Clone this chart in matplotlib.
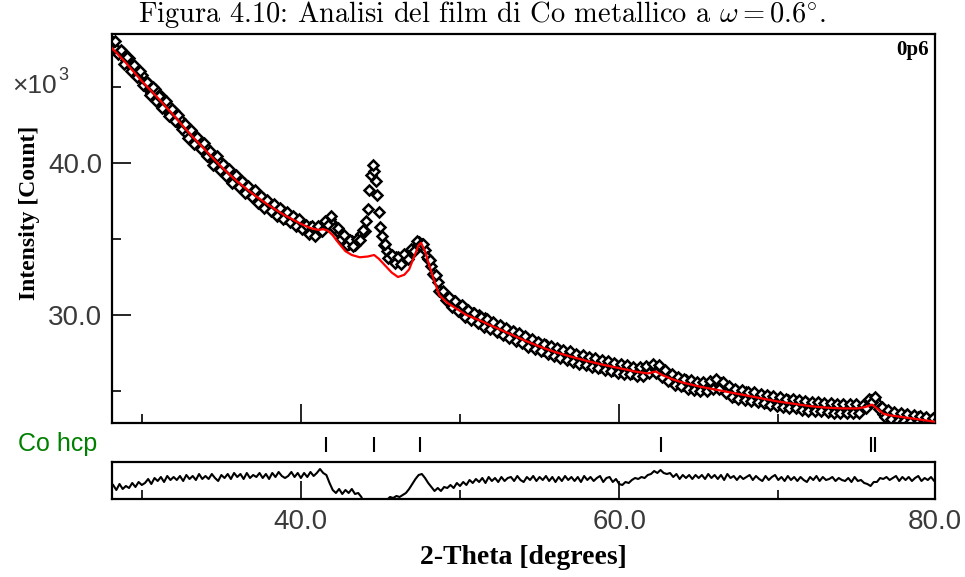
import numpy as np
import matplotlib
matplotlib.use("Agg")
import matplotlib.pyplot as plt

# Observed intensity (x10^3 counts) on a 0.2 deg grid, one row per degree: n.2 ... n+1.0
obs_start = 28.2
obs_step = 0.2
obs = [
    48.0, 47.5, 47.4, 47.3, 46.8,  # 28
    46.9, 46.3, 46.2, 45.7, 45.8,  # 29
    45.1, 45.3, 44.6, 44.9, 44.2,  # 30
    44.4, 43.6, 43.9, 43.3, 43.4,  # 31
    42.7, 42.9, 42.5, 42.0, 42.2,  # 32
    41.5, 41.7, 41.4, 40.9, 41.1,  # 33
    40.4, 40.6, 40.0, 40.2, 39.6,  # 34
    39.8, 39.2, 39.3, 38.8, 39.0,  # 35
    38.5, 38.7, 38.1, 38.3, 37.8,  # 36
    38.0, 37.5, 37.7, 37.2, 37.3,  # 37
    36.9, 37.2, 36.7, 36.9, 36.4,  # 38
    36.6, 36.2, 36.4, 35.9, 36.1,  # 39
    35.7, 35.5, 35.8, 35.4, 35.6,  # 40
    35.5, 35.9, 36.0, 36.3, 36.0,  # 41
    35.6, 35.4, 35.1, 34.9, 34.7,  # 42
    34.9, 34.6, 35.0, 35.3, 35.5,  # 43
    37.0, 39.2, 39.5, 37.9, 35.8,  # 44
    34.6, 34.2, 33.9, 33.6, 33.8,  # 45
    33.5, 33.7, 33.9, 34.0, 34.3,  # 46
    34.5, 34.8, 34.7, 34.3, 33.7,  # 47
    33.2, 32.6, 32.2, 31.5, 31.3,  # 48
    31.1, 30.8, 30.9, 30.5, 30.6,  # 49
    30.3, 30.4, 29.9, 30.1, 29.7,  # 50
    30.0, 29.6, 29.8, 29.2, 29.5,  # 51
    29.3, 29.0, 29.3, 28.8, 29.0,  # 52
    28.6, 28.9, 28.5, 28.7, 28.2,  # 53
    28.5, 28.1, 28.3, 27.9, 28.1,  # 54
    27.7, 28.0, 27.6, 27.8, 27.4,  # 55
    27.7, 27.3, 27.5, 27.2, 27.4,  # 56
    27.1, 27.3, 26.9, 27.2, 26.9,  # 57
    27.1, 26.7, 27.0, 26.6, 26.9,  # 58
    26.5, 26.8, 26.4, 26.7, 26.4,  # 59
    26.6, 26.3, 26.5, 26.2, 26.4,  # 60
    26.2, 26.4, 26.3, 26.5, 26.4,  # 61
    26.6, 26.4, 26.3, 26.0, 26.1,  # 62
    25.7, 25.9, 25.6, 25.8, 25.4,  # 63
    25.7, 25.3, 25.6, 25.2, 25.4,  # 64
    25.1, 25.4, 25.2, 25.5, 25.6,  # 65
    25.4, 25.5, 25.2, 24.9, 25.1,  # 66
    24.7, 25.0, 24.8, 24.6, 24.9,  # 67
    24.6, 24.8, 24.4, 24.7, 24.5,  # 68
    24.3, 24.6, 24.3, 24.5, 24.2,  # 69
    24.4, 24.1, 24.4, 24.1, 24.3,  # 70
    24.0, 24.2, 23.9, 24.2, 23.9,  # 71
    24.1, 23.8, 24.1, 23.9, 24.0,  # 72
    23.7, 24.0, 23.8, 23.7, 23.9,  # 73
    23.7, 23.9, 23.8, 23.7, 23.9,  # 74
    23.8, 24.0, 24.2, 24.4, 24.5,  # 75
    24.2, 23.8, 23.5, 23.7, 23.4,  # 76
    23.5, 23.3, 23.4, 23.2, 23.4,  # 77
    23.2, 23.3, 23.1, 23.3, 23.0,  # 78
    23.2, 23.0, 23.1, 22.9, 23.0,  # 79
]

# the interleaved observed points: n.3, n.5, n.7, n.9, n+1.1
obs_mid_start = 28.3
obs_mid = [
    48.05, 47.15, 47.45, 46.55, 47.0,  # 28
    46.05, 46.45, 45.65, 46.05, 45.15,  # 29
    45.35, 44.5, 45.0, 44.1, 44.45,  # 30
    43.65, 44.1, 43.1, 43.55, 42.8,  # 31
    43.15, 42.25, 42.55, 41.65, 42.15,  # 32
    41.25, 41.7, 40.9, 41.35, 40.45,  # 33
    40.8, 39.9, 40.45, 39.55, 39.95,  # 34
    39.15, 39.6, 38.7, 39.2, 38.4,  # 35
    38.85, 38.0, 38.5, 37.75, 38.2,  # 36
    37.4, 37.85, 37.05, 37.55, 36.85,  # 37
    37.3, 36.5, 37.05, 36.3, 36.8,  # 38
    36.1, 36.55, 35.85, 36.35, 35.65,  # 39
    35.95, 35.3, 35.85, 35.2, 35.85,  # 40
    35.5, 36.2, 35.95, 36.5, 35.7,  # 41
    35.75, 35.0, 35.25, 34.6, 34.95,  # 42
    34.55, 35.0, 34.95, 35.6, 36.2,  # 43
    38.2, 39.9, 38.8, 36.8, 35.2,  # 44
    34.65, 33.75, 33.95, 33.45, 33.85,  # 45
    33.35, 34.0, 33.7, 34.35, 34.2,  # 46
    34.85, 34.6, 34.7, 33.8, 33.65,  # 47
    32.7, 32.65, 31.6, 31.6, 31.0,  # 48
    31.2, 30.5, 30.95, 30.25, 30.65,  # 49
    29.85, 30.35, 29.65, 30.15, 29.5,  # 50
    29.9, 29.2, 29.75, 29.05, 29.55,  # 51
    28.85, 29.35, 28.7, 29.15, 28.5,  # 52
    28.95, 28.3, 28.8, 28.15, 28.6,  # 53
    27.9, 28.45, 27.75, 28.25, 27.6,  # 54
    28.1, 27.45, 27.95, 27.3, 27.8,  # 55
    27.15, 27.7, 27.05, 27.6, 26.9,  # 56
    27.45, 26.8, 27.35, 26.7, 27.25,  # 57
    26.6, 27.15, 26.5, 27.05, 26.4,  # 58
    26.95, 26.3, 26.85, 26.2, 26.8,  # 59
    26.1, 26.7, 26.1, 26.6, 26.0,  # 60
    26.6, 26.0, 26.65, 26.2, 26.8,  # 61
    26.2, 26.7, 25.9, 26.35, 25.65,  # 62
    26.1, 25.4, 25.95, 25.3, 25.8,  # 63
    25.15, 25.7, 25.05, 25.6, 25.0,  # 64
    25.6, 25.0, 25.65, 25.15, 25.8,  # 65
    25.1, 25.6, 24.85, 25.3, 24.6,  # 66
    25.15, 24.5, 25.05, 24.4, 24.95,  # 67
    24.35, 24.9, 24.25, 24.8, 24.2,  # 68
    24.75, 24.1, 24.65, 24.0, 24.6,  # 69
    23.95, 24.5, 23.9, 24.45, 23.85,  # 70
    24.4, 23.75, 24.35, 23.7, 24.3,  # 71
    23.65, 24.25, 23.65, 24.2, 23.6,  # 72
    24.2, 23.55, 24.15, 23.55, 24.15,  # 73
    23.55, 24.15, 23.55, 24.15, 23.55,  # 74
    24.1, 23.9, 24.5, 24.25, 24.6,  # 75
    23.8, 23.95, 23.3, 23.75, 23.15,  # 76
    23.6, 23.05, 23.55, 23.0, 23.5,  # 77
    22.95, 23.4, 22.9, 23.35, 22.85,  # 78
    23.3, 22.8, 23.25, 22.8, 23.15,  # 79
]

# calculated profile (red)
fit_x = [28.1, 29.0, 30.0, 31.0, 32.0, 33.0, 34.0, 35.0, 36.0, 37.0, 38.0, 39.0, 40.0,
         40.6, 41.1, 41.4, 41.7, 42.0, 42.4, 42.8, 43.2, 43.7, 44.2, 44.6, 44.9,
         45.3, 45.7, 46.1, 46.5, 46.8, 47.1, 47.4, 47.55, 47.8, 48.0, 48.3, 48.7,
         49.2, 49.8, 50.4, 51.3, 52.0, 53.0, 54.0, 55.0, 56.0, 57.0, 58.0, 59.0,
         60.0, 61.0, 61.8, 62.3, 62.7, 63.4, 64.0, 65.0, 66.0, 67.0, 68.0, 69.0,
         70.0, 71.0, 72.0, 73.0, 74.0, 75.0, 75.5, 75.9, 76.2, 76.6, 77.0, 78.0,
         79.0, 80.0]
fit_y = [47.6, 46.6, 45.4, 44.3, 43.15, 41.95, 40.85, 39.75, 38.78, 37.95, 37.2, 36.55, 36.0,
         35.72, 35.6, 35.65, 35.55, 35.25, 34.7, 34.2, 33.95, 33.8, 33.85, 33.95, 33.7,
         33.25, 32.8, 32.5, 32.65, 33.0, 33.8, 34.6, 34.75, 34.2, 33.5, 32.5, 31.3,
         30.8, 30.4, 30.0, 29.62, 29.28, 28.82, 28.35, 27.92, 27.55, 27.25, 26.97, 26.72,
         26.5, 26.28, 26.15, 26.28, 26.05, 25.75, 25.55, 25.3, 25.1, 24.9, 24.7, 24.5,
         24.3, 24.15, 24.0, 23.9, 23.85, 23.85, 23.95, 24.1, 23.85, 23.5, 23.4, 23.25,
         23.1, 22.95]

# difference curve, same grid as obs (arbitrary units)
resid = [
    -4, -9, -3, -8, -5,  # 28
    -7, -2, -6, -1, -4,  # 29
    -2, 2, -3, 3, 0,  # 30
    4, -1, 5, 1, 4,  # 31
    1, 5, 0, 6, 2,  # 32
    5, 1, 7, 2, 5,  # 33
    2, 7, 3, 0, 6,  # 34
    3, 7, 2, 8, 4,  # 35
    7, 2, 8, 3, 6,  # 36
    4, 8, 3, 7, 2,  # 37
    8, 4, 9, 5, 3,  # 38
    5, 9, 4, 8, 3,  # 39
    8, 4, 9, 5, 8,  # 40
    12, 8, 6, -2, -9,  # 41
    -12, -8, -13, -9, -12,  # 42
    -8, -13, -12, -16, -24,  # 43
    -35, -60, -70, -55, -35,  # 44
    -22, -19, -16, -17, -15,  # 45
    -16, -14, -12, -8, -3,  # 46
    2, 6, 7, 3, -2,  # 47
    -6, -10, -7, -10, -6,  # 48
    -7, -4, -7, -2, -5,  # 49
    -1, -4, 1, -2, 2,  # 50
    -1, 3, -2, 4, 0,  # 51
    3, -1, 4, 0, 3,  # 52
    4, 0, 5, 1, -1,  # 53
    4, 1, 5, 0, 4,  # 54
    1, 5, 0, 4, -1,  # 55
    4, 0, 5, 1, 4,  # 56
    0, 4, -1, 5, 1,  # 57
    4, 0, 3, 5, -1,  # 58
    3, 4, -1, 2, -3,  # 59
    -4, -1, -2, 1, 3,  # 60
    2, 4, 3, 6, 7,  # 61
    10, 8, 11, 8, 7,  # 62
    8, 4, 7, 2, 6,  # 63
    3, 6, 2, 6, 3,  # 64
    6, 2, 7, 3, 6,  # 65
    2, 6, 1, 7, 3,  # 66
    5, 1, 5, 2, 4,  # 67
    6, 1, 5, 2, 0,  # 68
    5, 1, 4, 6, 1,  # 69
    4, 0, 5, 1, 4,  # 70
    0, 4, 1, -1, 4,  # 71
    1, 5, 0, 4, 1,  # 72
    2, 4, 0, 3, 1,  # 73
    0, 3, -1, 4, 0,  # 74
    1, -2, -3, -5, -1,  # 75
    -1, 3, 2, 4, 1,  # 76
    3, 5, 0, 4, 1,  # 77
    4, 0, 3, 5, 0,  # 78
    3, 1, 4, 0, 1,  # 79
]

# Co hcp reflection positions
hkl_pos = [41.6, 44.6, 47.5, 62.6, 75.85, 76.05]

x_ticks = [40, 60, 79.85]
x_labels = ["40.0", "60.0", "80.0"]
x_minor = [30, 50, 70]
y_ticks = [30, 40]
y_labels = ["30.0", "40.0"]
y_minor = [25, 35, 45]

SANS = "Liberation Sans"
SERIF = "Liberation Serif"
GREY = "#3a3a3a"
GREEN = "#008000"

xlim = (28.13, 79.85)

fig = plt.figure(figsize=(9.65, 5.77), dpi=100)
ax = fig.add_axes([0.1161, 0.2669, 0.8528, 0.6742])
ax_hkl = fig.add_axes([0.1161, 0.2062, 0.8528, 0.0486])
ax_res = fig.add_axes([0.1161, 0.1352, 0.8528, 0.0641])

x_obs = obs_start + obs_step * np.arange(len(obs))
x_mid = obs_mid_start + obs_step * np.arange(len(obs_mid))

# observed points: open diamonds that pile up into a dark band
marker_kw = dict(linestyle="none", marker="D", ms=5.4, mfc="white",
                 mec="black", mew=1.8, zorder=2)
ax.plot(x_obs, obs, **marker_kw)
ax.plot(x_mid, obs_mid, **marker_kw)
ax.plot(fit_x, fit_y, color="#ff0000", lw=1.6, zorder=3)

ax.set_xlim(*xlim)
ax.set_ylim(22.89, 48.5)
ax.set_xticks(x_ticks)
ax.set_xticks(x_minor, minor=True)
ax.set_xticklabels([])
ax.set_yticks(y_ticks)
ax.set_yticklabels(y_labels, fontfamily=SANS, fontsize=20, color=GREY)
ax.set_yticks(y_minor, minor=True)
ax.tick_params(axis="both", which="major", direction="in", length=13.5, width=1.2,
               pad=7, top=False, right=False)
ax.tick_params(axis="both", which="minor", direction="in", length=6.5, width=1.2,
               top=False, right=False)
for s in ax.spines.values():
    s.set_linewidth(1.6)

ax.set_ylabel("Intensity [Count]", fontfamily=SERIF, fontweight="bold", fontsize=17)
ax.yaxis.set_label_coords(-0.0875, 0.54)
ax.text(0.9927, 0.985, "0p6", transform=ax.transAxes, ha="right", va="top",
        fontfamily=SERIF, fontweight="bold", fontsize=15)

fig.text(12 / 965, 1 - 86 / 577, "\u00d710", fontfamily=SANS, fontsize=19,
         color=GREY, ha="left", va="center")
fig.text(58 / 965, 1 - 75 / 577, "3", fontfamily=SANS, fontsize=13,
         color=GREY, ha="left", va="center")

# reflection markers
ax_hkl.vlines(hkl_pos, 0.22, 0.76, color="black", lw=1.5)
ax_hkl.set_xlim(*xlim)
ax_hkl.set_ylim(0, 1)
ax_hkl.axis("off")
fig.text(18 / 965, 1 - 444 / 577, "Co hcp", fontfamily=SANS, fontsize=18,
         color=GREEN, ha="left", va="center")

# difference plot
ax_res.plot(x_obs, resid, color="black", lw=1.5)
ax_res.set_xlim(*xlim)
ax_res.set_ylim(-18, 19)
ax_res.set_yticks([])
ax_res.set_xticks(x_ticks)
ax_res.set_xticklabels(x_labels, fontfamily=SANS, fontsize=20, color=GREY)
ax_res.set_xticks(x_minor, minor=True)
ax_res.tick_params(axis="x", which="major", direction="in", length=13, width=1.2, pad=7)
ax_res.tick_params(axis="x", which="minor", direction="in", length=6.5, width=1.2)
for s in ax_res.spines.values():
    s.set_linewidth(1.6)
ax_res.set_xlabel("2-Theta [degrees]", fontfamily=SERIF, fontweight="bold",
                  fontsize=20)
ax_res.xaxis.set_label_coords(0.5, -1.25)

fig.text(0.5, 1 - 14 / 577,
         "Figura 4.10: Analisi del film di Co metallico a $\\omega = 0.6^{\\circ}$.",
         fontfamily="cmr10", math_fontfamily="cm", fontsize=20.5,
         ha="center", va="center")

fig.savefig("out.png", dpi=100)
